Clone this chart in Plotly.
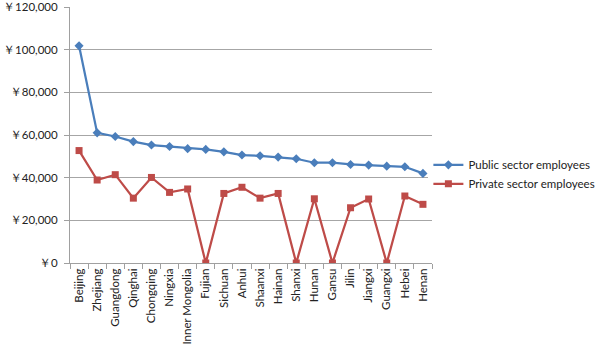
import plotly.graph_objects as go

provinces = ["Beijing", "Zhejiang", "Guangdong", "Qinghai", "Chongqing", "Ningxia",
             "Inner Mongolia", "Fujian", "Sichuan", "Anhui", "Shaanxi", "Hainan",
             "Shanxi", "Hunan", "Gansu", "Jilin", "Jiangxi", "Guangxi", "Hebei", "Henan"]
public = [101800, 61000, 59300, 56900, 55300, 54600, 53600, 53250, 52100, 50600,
          50260, 49650, 48860, 47000, 47000, 46200, 45900, 45400, 45100, 42000]
private = [52700, 38900, 41400, 30400, 40100, 33100, 34700, 0, 32600, 35500,
           30400, 32600, 0, 30100, 0, 25900, 30000, 0, 31400, 27500]

blue = "#4A7EBB"
red = "#BE4B48"

fig = go.Figure()
fig.add_trace(go.Scatter(x=provinces, y=public, mode="lines+markers",
                         name="Public sector employees",
                         line=dict(color=blue, width=2.25),
                         marker=dict(symbol="diamond", size=7, color=blue)))
fig.add_trace(go.Scatter(x=provinces, y=private, mode="lines+markers",
                         name="Private sector employees",
                         line=dict(color=red, width=2.25),
                         marker=dict(symbol="square", size=7, color=red)))

fig.update_layout(
    width=600, height=353,
    margin=dict(l=70, r=168, t=7, b=90, autoexpand=False),
    paper_bgcolor="white", plot_bgcolor="white",
    font=dict(family="Lato, Liberation Sans, sans-serif", size=11, color="#222"),
    showlegend=True,
    legend=dict(x=0.99, y=0.44, xanchor="left", yanchor="top",
                font=dict(size=11.5), tracegroupgap=5, itemwidth=30),
    xaxis=dict(type="category", range=[-0.5, 19.5], tickangle=-90, showline=True,
               linecolor="#A0A0A0",
               linewidth=1, ticks="outside", tickson="boundaries", ticklen=5,
               tickcolor="#A0A0A0", showgrid=False, fixedrange=True,
               tickfont=dict(size=11.5)),
    yaxis=dict(range=[0, 120000.5], dtick=20000, tickprefix="￥", tickformat=",",
               showline=True, linecolor="#A0A0A0", linewidth=1,
               ticks="outside", ticklen=5, tickcolor="#A0A0A0",
               showgrid=True, gridcolor="#A6A6A6", gridwidth=1,
               zeroline=False, ticklabelstandoff=4, tickfont=dict(size=11.5)),
)

fig.write_html("out.html")
